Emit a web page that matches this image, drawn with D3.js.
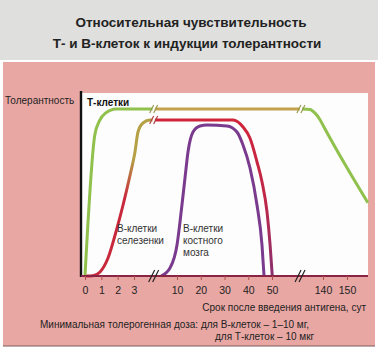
<!DOCTYPE html>
<html>
<head>
<meta charset="utf-8">
<script src="https://cdn.jsdelivr.net/npm/d3@7"></script>
<style>
  html, body { margin: 0; padding: 0; background: #fff; }
  svg { display: block; font-family: "Liberation Sans", Arial, sans-serif; }
</style>
</head>
<body>
<div id="chart"></div>
<script>
// Данные: [сутки, толерантность %]
const xTicks = [0, 1, 2, 3, 10, 20, 30, 40, 50, 140, 150];

// T-клетки (три участка из-за разрывов шкалы)
const tCellsA = [[0, 0], [0.6, 77], [0.9, 85], [1.25, 89], [1.9, 91.3], [6.0, 91.3]];
const tCellsB = [[6.4, 91.3], [99, 91.3]];
const tCellsC = [[103, 91.3], [117, 91], [126, 89], [135, 85.3], [140, 82.4], [150, 59.1], [158.7, 40]];

// B-клетки селезенки
const spleenA = [[0, 0], [0.49, 0.2], [0.92, 2.2], [1.41, 9.8], [1.96, 26.2], [2.33, 38.8], [2.76, 55.2],
                 [3.16, 67.8], [3.65, 78.7], [4.46, 83.6], [5.6, 85.2], [6.0, 85.2]];
const spleenB = [[6.4, 85.2], [33.6, 85.2], [37.8, 81.4], [40.7, 75.4], [43.7, 62.3], [45.8, 51.4],
                 [47.9, 35], [49.2, 16.9], [50.4, 0.3]];

// B-клетки костного мозга
const marrow = [[7.4, 0], [8.86, 4.4], [10, 16.9], [11.26, 29.5], [13.37, 53.6], [14.63, 67.8], [16.74, 78.7],
                [19.68, 82], [22.63, 82.5], [31.05, 82], [35.26, 78.7], [37.79, 71.6], [40.74, 59],
                [43.68, 38.8], [45.79, 16.9], [46.63, 0.3]];

const W = 378, H = 352;
const svg = d3.select('#chart').append('svg').attr('width', W).attr('height', H);

// Фон
svg.append('rect').attr('x', 0).attr('y', 0).attr('width', W).attr('height', 60).attr('fill', '#dfdfdd');
svg.append('rect').attr('x', 3).attr('y', 62).attr('width', 372).attr('height', 284).attr('fill', '#e9a7a4');
svg.append('line').attr('x1', 3).attr('x2', 375).attr('y1', 346).attr('y2', 346)
    .attr('stroke', '#7a5a5a').attr('stroke-width', 1.2);

// Заголовок
const title = svg.append('text').attr('text-anchor', 'middle').attr('font-weight', 'bold')
    .attr('font-size', '13.5px').attr('fill', '#222');
title.append('tspan').attr('x', 191).attr('y', 27).text('Относительная чувствительность');
title.append('tspan').attr('x', 187).attr('y', 48).text('Т- и В-клеток к индукции толерантности');

// Шкалы (кусочно-линейная ось X с разрывами)
const x = d3.scaleLinear()
    .domain([0, 3, 10, 50, 140, 150, 160])
    .range([85, 134, 177, 272, 323, 347, 371]);
const y = d3.scaleLinear().domain([0, 100]).range([276, 93]);

// Белая область графика
svg.append('rect').attr('x', 82).attr('y', 93).attr('width', 286).attr('height', 183).attr('fill', '#fdfdfd');

// Градиенты
const defs = svg.append('defs');
const g1 = defs.append('linearGradient').attr('id', 'spleenUp')
    .attr('gradientUnits', 'userSpaceOnUse').attr('x1', 0).attr('x2', 0).attr('y1', 276).attr('y2', 120);
g1.append('stop').attr('offset', 0).attr('stop-color', '#c8283c');
g1.append('stop').attr('offset', 0.5).attr('stop-color', '#c8283c');
g1.append('stop').attr('offset', 0.75).attr('stop-color', '#b5a046');
g1.append('stop').attr('offset', 1).attr('stop-color', '#b5a046');
const g2 = defs.append('linearGradient').attr('id', 'spleenDown')
    .attr('gradientUnits', 'userSpaceOnUse').attr('x1', 0).attr('x2', 0).attr('y1', 120).attr('y2', 276);
g2.append('stop').attr('offset', 0).attr('stop-color', '#d0243a');
g2.append('stop').attr('offset', 0.5).attr('stop-color', '#c02848');
g2.append('stop').attr('offset', 1).attr('stop-color', '#8a3070');

const line = d3.line().x(d => x(d[0])).y(d => y(d[1])).curve(d3.curveMonotoneX);

function drawCurve(data, color) {
    svg.append('path').datum(data).attr('d', line)
        .attr('fill', 'none').attr('stroke', color).attr('stroke-width', 3)
        .attr('stroke-linecap', 'butt').attr('stroke-linejoin', 'round');
}

drawCurve(marrow, '#7a3a8e');
drawCurve(spleenA, 'url(#spleenUp)');
drawCurve(spleenB, 'url(#spleenDown)');
drawCurve(tCellsA, '#8fc14c');
drawCurve(tCellsB, '#c4a24c');
drawCurve(tCellsC, '#8fc14c');

// Знаки разрыва на кривых
function breakMark(day, val, color) {
    const cx = x(day), cy = y(val);
    [-2, 2].forEach(off => {
        svg.append('line')
            .attr('x1', cx + off - 2).attr('y1', cy + 4)
            .attr('x2', cx + off + 2).attr('y2', cy - 4)
            .attr('stroke', color).attr('stroke-width', 1.2);
    });
}
breakMark(6.2, 91.3, '#9a9a50');
breakMark(6.2, 85.2, '#b04040');
breakMark(101, 91.3, '#9a9a50');

// Ось Y
svg.append('line').attr('x1', 81).attr('x2', 81).attr('y1', 91).attr('y2', 277)
    .attr('stroke', '#111').attr('stroke-width', 2.4);

// Ось X
svg.append('line').attr('x1', 81).attr('x2', 368).attr('y1', 276).attr('y2', 276)
    .attr('stroke', '#8a2444').attr('stroke-width', 2.2);

const xAxis = svg.append('g').attr('transform', 'translate(0,276)')
    .call(d3.axisBottom(x).tickValues(xTicks).tickSize(4).tickPadding(7).tickFormat(d3.format('d')));
xAxis.select('.domain').remove();
xAxis.selectAll('.tick line').attr('stroke', '#b05050').attr('stroke-width', 1);
xAxis.selectAll('.tick text').attr('fill', '#222').attr('font-size', '10.5px')
    .attr('font-family', '"Liberation Sans", Arial, sans-serif');

// Разрывы оси X
[6.2, 99.5].forEach(d => {
    const cx = x(d);
    [-2, 2].forEach(off => {
        svg.append('line')
            .attr('x1', cx + off - 3).attr('y1', 282)
            .attr('x2', cx + off + 3).attr('y2', 270)
            .attr('stroke', '#222').attr('stroke-width', 1.2);
    });
});

// Подписи
svg.append('text').attr('x', 5).attr('y', 104).attr('font-size', '10px').attr('fill', '#222')
    .text('Толерантность');
svg.append('text').attr('x', 87).attr('y', 106).attr('font-size', '10px').attr('fill', '#111')
    .attr('font-weight', 'bold').text('Т-клетки');

const lbl1 = svg.append('text').attr('font-size', '10px').attr('fill', '#333');
lbl1.append('tspan').attr('x', 117).attr('y', 232).text('В-клетки');
lbl1.append('tspan').attr('x', 117).attr('y', 244).text('селезенки');

const lbl2 = svg.append('text').attr('font-size', '10px').attr('fill', '#333');
lbl2.append('tspan').attr('x', 183).attr('y', 232).text('В-клетки');
lbl2.append('tspan').attr('x', 183).attr('y', 244).text('костного');
lbl2.append('tspan').attr('x', 183).attr('y', 256).text('мозга');

svg.append('text').attr('x', 366).attr('y', 311).attr('text-anchor', 'end')
    .attr('font-size', '10px').attr('fill', '#222').text('Срок после введения антигена, сут');

svg.append('text').attr('x', 40).attr('y', 328).attr('font-size', '10px').attr('fill', '#222')
    .text('Минимальная толерогенная доза: для В-клеток – 1–10 мг,');
svg.append('text').attr('x', 215).attr('y', 340).attr('font-size', '10px').attr('fill', '#222')
    .text('для Т-клеток – 10 мкг');
</script>
</body>
</html>
